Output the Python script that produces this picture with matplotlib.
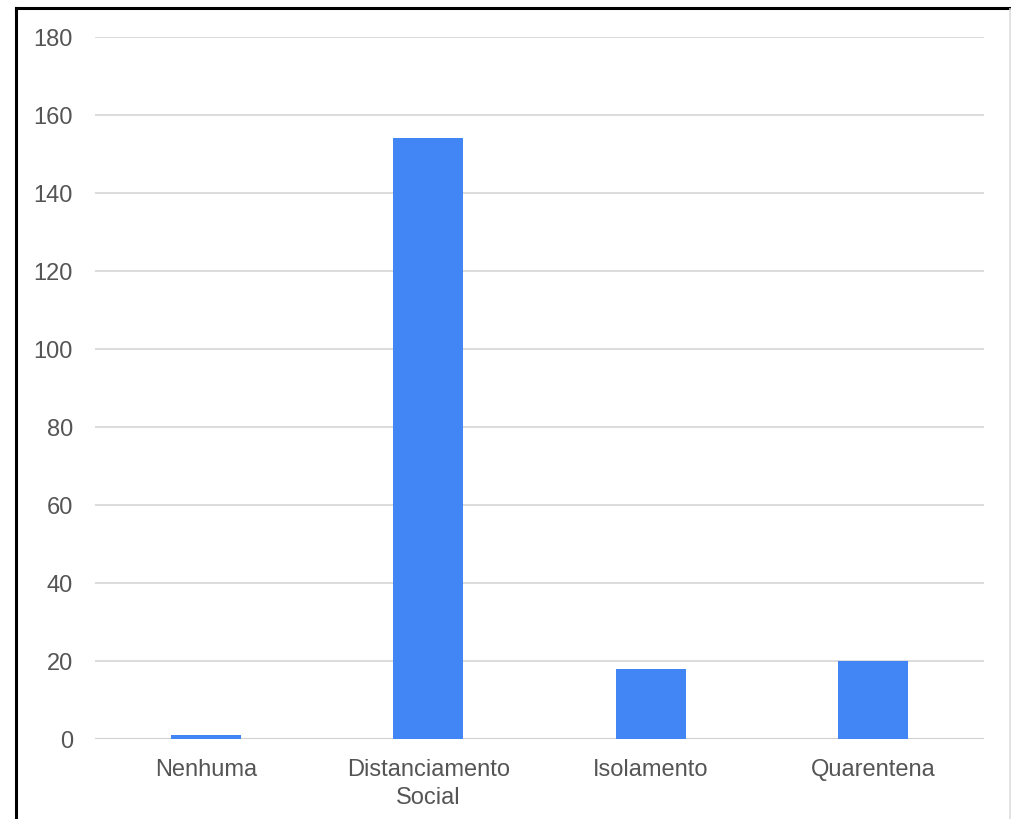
import matplotlib.pyplot as plt
from matplotlib.lines import Line2D

categories = ['Nenhuma', 'Distanciamento\nSocial', 'Isolamento', 'Quarentena']
values = [1, 154, 18, 20]
yticks = [0, 20, 40, 60, 80, 100, 120, 140, 160, 180]

plt.rcParams['font.family'] = ['Liberation Sans', 'DejaVu Sans']

fig = plt.figure(figsize=(10.12, 8.2), dpi=100)
ax = fig.add_axes([0.0939, 0.0976, 0.8784, 0.8561])

x = range(len(categories))
ax.bar(x, values, width=0.315, color='#4285f4', zorder=3)

ax.set_xlim(-0.5, len(categories) - 0.5)
ax.set_ylim(0, 180)
ax.set_yticks(yticks)
ax.set_xticks(list(x))
ax.set_xticklabels(categories)

ax.grid(axis='y', color='#d9d9d9', linewidth=1.3, zorder=0)
ax.grid(axis='x', visible=False)
for side in ['top', 'right', 'left', 'bottom']:
    ax.spines[side].set_visible(False)
ax.axhline(0, color='#d0d0d0', linewidth=1.5, zorder=2)

ax.tick_params(axis='both', length=0, labelsize=17, labelcolor='#555555')
ax.tick_params(axis='y', pad=16)
ax.tick_params(axis='x', pad=14)
for lbl in ax.get_xticklabels():
    lbl.set_linespacing(1.35)

# frame lines around the figure edge
W, H = 1012, 820
fig.add_artist(Line2D([16 / W, 16 / W], [0, 1 - 9 / H], color='black', linewidth=2.2))
fig.add_artist(Line2D([16 / W, 1], [1 - 9 / H, 1 - 9 / H], color='black', linewidth=2.2))
fig.add_artist(Line2D([1010.5 / W, 1010.5 / W], [0, 1 - 10 / H], color='#dddddd', linewidth=1.2))

fig.savefig('out.png', dpi=100)
